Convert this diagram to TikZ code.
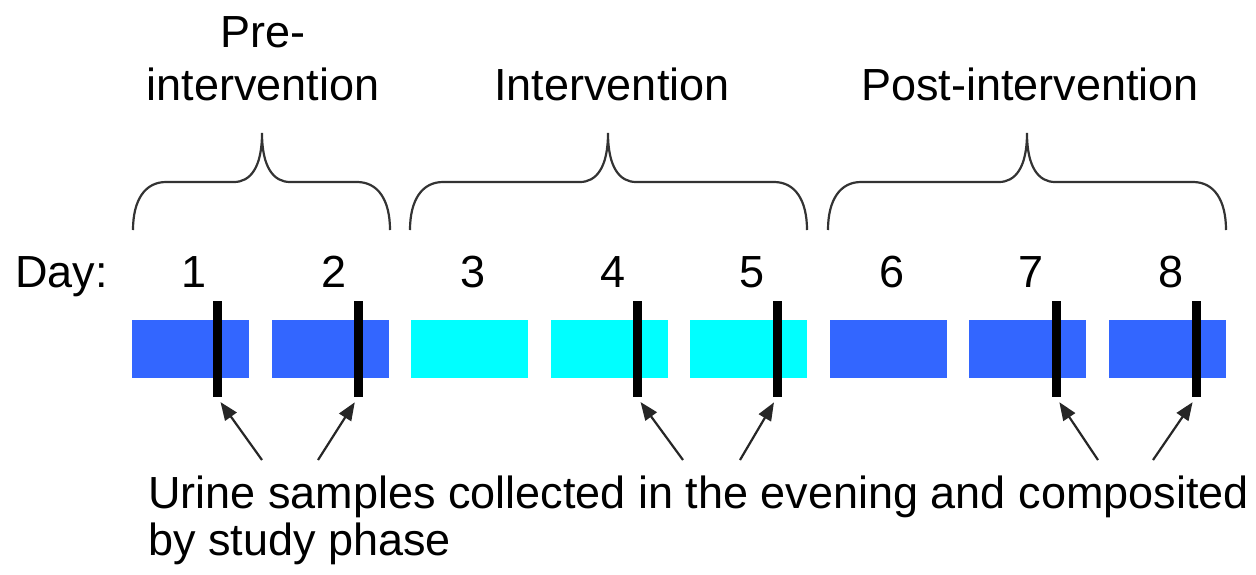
\documentclass[tikz,border=0pt]{standalone}
\usepackage{fontspec}
\setmainfont{Liberation Sans}
\usetikzlibrary{arrows.meta}
\definecolor{phaseblue}{RGB}{51,102,255}
\definecolor{phasecyan}{RGB}{0,255,255}
\tikzset{
  lbl/.style={inner sep=0pt, anchor=base, font=\fontsize{45}{48}\selectfont},
  daybox/.style={fill=#1, draw=none, minimum width=117pt, minimum height=58pt, inner sep=0pt},
  sample/.style={fill=black, draw=none, minimum width=9pt, minimum height=96pt, inner sep=0pt},
  bracepath/.style={line width=2.2pt, black!80},
  pointer/.style={line width=2.2pt, black!85, -{Triangle[length=18pt,width=14pt]}, shorten >=6pt},
}
% curly brace: left end, tip, right end
\newcommand\phasebrace[3]{%
  \draw[bracepath] (#1,230) .. controls (#1,200) and ({#1+12},182) .. ({#1+33},182)
    -- ({#2-28},182) .. controls ({#2-12},182) and (#2,168) .. (#2,133)
    .. controls (#2,168) and ({#2+12},182) .. ({#2+28},182)
    -- ({#3-33},182) .. controls ({#3-12},182) and (#3,200) .. (#3,230);}
\begin{document}
\begin{tikzpicture}[x=1pt,y=-1pt]
\useasboundingbox (0,0) rectangle (1256,574);

% phase headings
\node[lbl] (pre1) at (263,47) {Pre-};
\node[lbl] (pre2) at (263,100) {intervention};
\node[lbl] (int) at (612,100) {Intervention};
\node[lbl] (post) at (1030,100) {Post-intervention};

% braces
\phasebrace{133}{262}{390}
\phasebrace{410}{608}{807}
\phasebrace{828}{1027}{1226}

% day labels
\node[lbl, anchor=base west] (day) at (15,287) {Day:};
\foreach \i/\c in {1/phaseblue,2/phaseblue,3/phasecyan,4/phasecyan,5/phasecyan,6/phaseblue,7/phaseblue,8/phaseblue}{
  \node[daybox=\c] (b\i) at ({190.5+(\i-1)*139.5},349) {};
  \node[lbl] (n\i) at ({194.5+(\i-1)*139.5},287) {\i};
}

% evening sample markers
\foreach \k/\x in {1/217,2/358,4/637,5/777,7/1056,8/1196}{
  \node[sample] (m\k) at (\x,349) {};
}

% pointer tails
\coordinate (t1) at (262,460);
\coordinate (t2) at (318,460);
\coordinate (t4) at (683,460);
\coordinate (t5) at (740,460);
\coordinate (t7) at (1098,460);
\coordinate (t8) at (1153,460);
\foreach \k in {1,2,4,5,7,8}{
  \draw[pointer] (t\k) -- (m\k.south);
}

% caption
\node[lbl, anchor=base west] (cap1) at (148,508) {Urine samples collected in the evening and composited};
\node[lbl, anchor=base west] (cap2) at (148,555) {by study phase};
\end{tikzpicture}
\end{document}
